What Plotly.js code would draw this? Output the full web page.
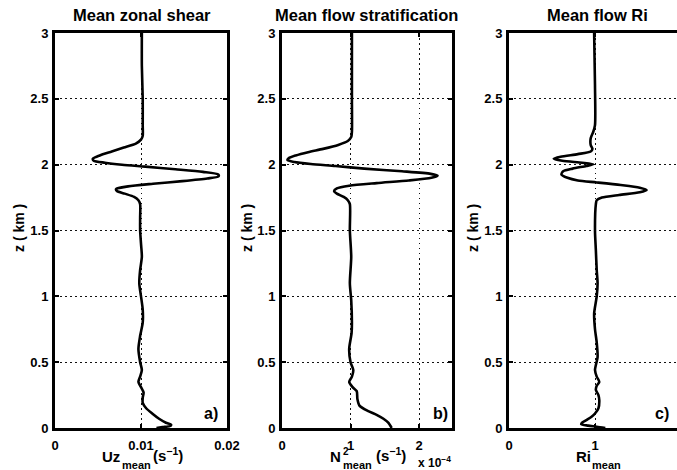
<!DOCTYPE html>
<html>
<head>
<meta charset="utf-8">
<script src="https://cdn.plot.ly/plotly-3.0.1.min.js"></script>
<style>html,body{margin:0;padding:0;background:#fff}#plot{width:677px;height:470px}</style>
</head>
<body>
<div id="plot"></div>
<script>
// ---- data (z in km) ----
const zShear = [3.0,2.75,2.5,2.3,2.22,2.19,2.16,2.13,2.10,2.07,2.045,2.03,2.015,2.0,1.985,1.965,1.945,1.925,1.91,1.895,1.875,1.855,1.835,1.815,1.80,1.78,1.755,1.73,1.70,1.6,1.5,1.4,1.3,1.2,1.1,1.0,0.9,0.8,0.7,0.6,0.5,0.44,0.39,0.35,0.31,0.27,0.23,0.19,0.15,0.11,0.07,0.04,0.025,0.015,0.007,0.0];
const uzMean = [0.0101,0.0101,0.0102,0.0102,0.0102,0.0100,0.0094,0.0080,0.0066,0.0052,0.0044,0.0045,0.0058,0.0078,0.0105,0.0140,0.0172,0.0190,0.0190,0.0177,0.0148,0.0114,0.0085,0.0071,0.0072,0.0081,0.0092,0.0097,0.0099,0.0099,0.0099,0.0100,0.0101,0.0099,0.0098,0.0100,0.0102,0.0102,0.0099,0.0097,0.0099,0.0101,0.0099,0.0097,0.0100,0.0103,0.0102,0.0102,0.0106,0.0113,0.0121,0.0129,0.0135,0.0134,0.0125,0.0118];

const zStrat = [3.0,2.5,2.25,2.21,2.18,2.15,2.12,2.095,2.07,2.05,2.035,2.02,2.005,1.99,1.97,1.95,1.93,1.915,1.90,1.88,1.86,1.84,1.82,1.80,1.78,1.755,1.73,1.70,1.5,1.3,1.1,0.97,0.8,0.72,0.6,0.5,0.44,0.39,0.35,0.31,0.28,0.22,0.17,0.13,0.10,0.07,0.04,0.0];
const n2Mean = [1.02,1.02,1.02,1.01,0.96,0.82,0.60,0.38,0.20,0.10,0.08,0.18,0.42,0.78,1.20,1.75,2.17,2.27,2.18,1.85,1.38,0.98,0.80,0.76,0.80,0.90,0.96,0.99,0.99,1.01,0.99,1.01,1.02,1.015,0.98,1.00,1.04,1.02,0.98,1.03,1.09,1.10,1.13,1.25,1.38,1.48,1.55,1.60]; // x 10^-4

const zRi = [3.0,2.6,2.3,2.25,2.2,2.15,2.12,2.10,2.08,2.06,2.045,2.03,2.015,2.003,1.99,1.97,1.95,1.925,1.90,1.88,1.865,1.845,1.825,1.808,1.79,1.77,1.75,1.73,1.70,1.5,1.35,1.2,1.1,1.0,0.87,0.75,0.65,0.54,0.44,0.39,0.35,0.32,0.29,0.25,0.21,0.15,0.11,0.085,0.06,0.04,0.028,0.018,0.01,0.0];
const riMean = [0.99,1.0,1.0,0.98,0.95,0.95,0.97,0.95,0.80,0.60,0.52,0.62,0.85,0.98,0.90,0.74,0.63,0.61,0.68,0.80,1.02,1.30,1.52,1.60,1.52,1.28,1.08,1.02,1.01,1.0,1.01,1.02,1.03,1.02,0.99,1.0,1.02,1.03,1.0,1.02,1.05,1.02,1.01,1.04,1.05,1.04,1.0,0.96,0.90,0.85,0.84,0.92,1.02,1.12];

const zTicks = [0,0.5,1,1.5,2,2.5,3];
const zTickText = ['0','0.5','1','1.5','2','2.5','3'];
const shearTicks = [0,0.01,0.02];
const shearTickText = ['0','0.01','0.02'];
const stratTicks = [0,1,2];
const stratTickText = ['0','1','2'];
const riTicks = [0,1,2];
const riTickText = ['0','1','2'];

const panelTitles = ['Mean zonal shear','Mean flow stratification','Mean flow Ri'];
const panelLetters = ['a)','b)','c)'];

// ---- layout helpers ----
const W = 677, H = 470;
const px = v => v / W;
const py = v => 1 - v / H;
const FONT = 'Liberation Sans, Arial, Helvetica, sans-serif';
const lineStyle = {color:'#000', width:2.6, shape:'spline', smoothing:0.7};

const traces = [
  {x:uzMean, y:zShear, xaxis:'x', yaxis:'y', mode:'lines', line:lineStyle, hoverinfo:'skip'},
  {x:n2Mean, y:zStrat, xaxis:'x2', yaxis:'y2', mode:'lines', line:lineStyle, hoverinfo:'skip'},
  {x:riMean, y:zRi, xaxis:'x3', yaxis:'y3', mode:'lines', line:lineStyle, hoverinfo:'skip'}
];

const yDom = [py(428), py(33)];
const tickFont = {family:FONT, size:13, color:'#000', weight:'bold'};
function xAx(dom, range, tv, tt, anchor, mirror){
  return {domain:dom, range:range, tickvals:tv, ticktext:tt, anchor:anchor,
    showline:true, linecolor:'#000', linewidth:3, mirror:mirror,
    ticks:'inside', ticklen:4, tickwidth:2, tickcolor:'#000',
    showgrid:true, gridcolor:'#111', gridwidth:1, griddash:'1.5px,3.5px',
    zeroline:false, fixedrange:true, ticklabelstandoff:3,
    tickfont:tickFont};
}
function yAx(anchor, mirror){
  return {domain:yDom, range:[0,3], tickvals:zTicks, ticktext:zTickText, anchor:anchor,
    showline:true, linecolor:'#000', linewidth:3, mirror:mirror,
    ticks:'inside', ticklen:4, tickwidth:2, tickcolor:'#000',
    showgrid:true, gridcolor:'#111', gridwidth:1, griddash:'1.5px,3.5px',
    zeroline:false, fixedrange:true, ticklabelstandoff:1,
    tickfont:tickFont};
}

const ann = [];
const bf = (s) => ({family:FONT, size:s, color:'#000', weight:'bold'});
function A(text, x, y, size, opts){
  ann.push(Object.assign({text:text, xref:'paper', yref:'paper', x:px(x), y:py(y),
    xanchor:'center', yanchor:'middle', showarrow:false, font:bf(size)}, opts||{}));
}
// titles
A(panelTitles[0], 142, 15, 16.5);
A(panelTitles[1], 367, 15, 16.5);
A(panelTitles[2], 597, 15, 16.5);
// y titles
[19, 247, 473].forEach(x => A('z ( km )', x, 228, 14, {textangle:-90}));
// panel letters
A(panelLetters[0], 211, 413, 16);
A(panelLetters[1], 440, 413, 16);
A(panelLetters[2], 662, 413, 16);
// x titles
const L = {xanchor:'left'};
A('Uz', 111, 456, 15);
A('mean', 120, 465, 11, L);
A('(s<sup>−1</sup>)', 151, 454, 15, L);
A('N', 335, 456, 15);
A('2', 341, 451, 10, L);
A('mean', 341, 465, 11, L);
A('(s<sup>−1</sup>)', 374, 454, 15, L);
A('x 10<sup>−4</sup>', 416, 462, 12, L);
A('Ri', 583, 456, 15);
A('mean', 590, 465, 11, L);

const layout = {
  width:W, height:H, margin:{l:0,r:0,t:0,b:0},
  paper_bgcolor:'#fff', plot_bgcolor:'#fff', showlegend:false,
  xaxis: xAx([px(55),px(227)], [0,0.02], shearTicks, shearTickText, 'y', 'ticks'),
  yaxis: yAx('x', 'ticks'),
  xaxis2: xAx([px(282),px(452)], [0,2.48], stratTicks, stratTickText, 'y2', 'ticks'),
  yaxis2: yAx('x2', 'ticks'),
  xaxis3: xAx([px(509),1], [0,(677-509)/86], riTicks, riTickText, 'y3', 'ticks'),
  yaxis3: yAx('x3', false),
  annotations: ann
};

Plotly.newPlot('plot', traces, layout, {staticPlot:true, displayModeBar:false});
</script>
</body>
</html>
